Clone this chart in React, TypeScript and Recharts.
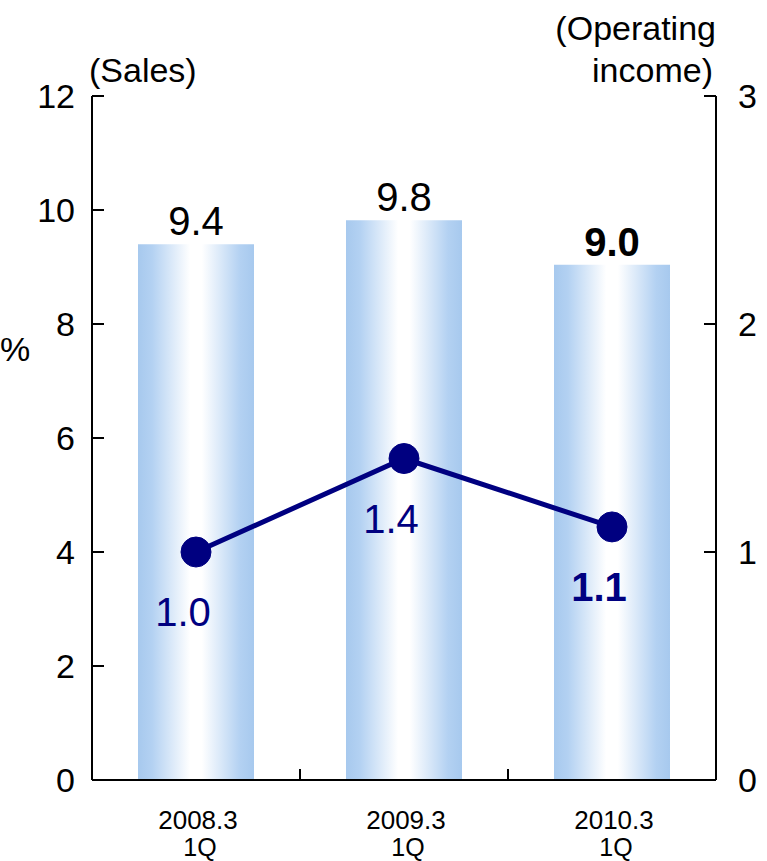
import React from 'react';
import { ComposedChart, Bar, Line, XAxis, YAxis, LabelList, Customized } from 'recharts';

const periods = ['2008.3', '2009.3', '2010.3'];
const quarters = ['1Q', '1Q', '1Q'];
const sales = [9.4, 9.82, 9.04];
const operatingIncome = [1.0, 1.41, 1.11];
const salesTicks = [0, 2, 4, 6, 8, 10, 12];
const incomeTicks = [0, 1, 2, 3];

const data = periods.map((p, i) => ({
  period: p,
  quarter: quarters[i],
  sales: sales[i],
  income: operatingIncome[i],
}));

const FONT = '"Liberation Sans", Arial, sans-serif';
const NAVY = '#000080';
const last = data.length - 1;

const LeftTick = (props: any) => {
  const { x, y, payload } = props;
  return (
    <g>
      <line x1={x} x2={x + 12} y1={y} y2={y} stroke="#000" strokeWidth={2} />
      <text x={x - 17} y={y + 12} textAnchor="end" fontSize={34} fontFamily={FONT} fill="#000">
        {payload.value}
      </text>
    </g>
  );
};

const RightTick = (props: any) => {
  const { x, y, payload } = props;
  return (
    <g>
      <line x1={x - 12} x2={x} y1={y} y2={y} stroke="#000" strokeWidth={2} />
      <text x={x + 22} y={y + 12} textAnchor="start" fontSize={34} fontFamily={FONT} fill="#000">
        {payload.value}
      </text>
    </g>
  );
};

const BottomTick = (props: any) => {
  const { x, y, payload, index } = props;
  const half = 104;
  return (
    <g>
      {index < last && (
        <line x1={x + half} x2={x + half} y1={y} y2={y - 11} stroke="#000" strokeWidth={2} />
      )}
      <text x={x + 2} y={y + 49} textAnchor="middle" fontSize={26} fontFamily={FONT} fill="#000">
        {payload.value}
      </text>
      <text x={x + 4} y={y + 76} textAnchor="middle" fontSize={25} fontFamily={FONT} fill="#000">
        {quarters[index]}
      </text>
    </g>
  );
};

const BarValueLabel = (props: any) => {
  const { x, y, width, value, index } = props;
  return (
    <text
      x={Number(x) + Number(width) / 2}
      y={Number(y) - 9}
      textAnchor="middle"
      fontSize={40}
      fontWeight={index === last ? 'bold' : 'normal'}
      fontFamily={FONT}
      fill="#000"
    >
      {Number(value).toFixed(1)}
    </text>
  );
};

const LineValueLabel = (props: any) => {
  const { x, y, value, index } = props;
  return (
    <text
      x={Number(x) - 13}
      y={Number(y) + 74}
      textAnchor="middle"
      fontSize={40}
      fontWeight={index === last ? 'bold' : 'normal'}
      fontFamily={FONT}
      fill={NAVY}
    >
      {Number(value).toFixed(1)}
    </text>
  );
};

const AxisTitles = () => (
  <g fontFamily={FONT} fontSize={34} fill="#000">
    <text x={89} y={82}>(Sales)</text>
    <text x={716} y={40} textAnchor="end">(Operating</text>
    <text x={713} y={82} textAnchor="end">income)</text>
    <text x={0} y={361}>%</text>
  </g>
);

export default function App() {
  return (
    <div style={{ position: 'absolute', left: 0, top: 0, background: '#fff' }}>
      <ComposedChart
        width={767}
        height={861}
        data={data}
        margin={{ top: 96, right: 0, bottom: 0, left: 0 }}
      >
        <defs>
          <linearGradient id="barGrad" x1="0" y1="0" x2="1" y2="0">
            <stop offset="0%" stopColor="#a7c9ee" />
            <stop offset="12%" stopColor="#b3d1f2" />
            <stop offset="45%" stopColor="#ffffff" />
            <stop offset="55%" stopColor="#ffffff" />
            <stop offset="88%" stopColor="#b3d1f2" />
            <stop offset="100%" stopColor="#a7c9ee" />
          </linearGradient>
        </defs>
        <XAxis
          dataKey="period"
          height={81}
          tickLine={false}
          tickSize={0}
          tickMargin={0}
          axisLine={{ stroke: '#000', strokeWidth: 2 }}
          tick={<BottomTick />}
          interval={0}
        />
        <YAxis
          yAxisId="sales"
          orientation="left"
          width={92}
          domain={[0, 12]}
          ticks={salesTicks}
          tickLine={false}
          tickSize={0}
          tickMargin={0}
          axisLine={{ stroke: '#000', strokeWidth: 2 }}
          tick={<LeftTick />}
          interval={0}
        />
        <YAxis
          yAxisId="income"
          orientation="right"
          width={51}
          domain={[0, 3]}
          ticks={incomeTicks}
          tickLine={false}
          tickSize={0}
          tickMargin={0}
          axisLine={{ stroke: '#000', strokeWidth: 2 }}
          tick={<RightTick />}
          interval={0}
        />
        <Bar
          yAxisId="sales"
          dataKey="sales"
          barSize={116}
          fill="url(#barGrad)"
          isAnimationActive={false}
        >
          <LabelList dataKey="sales" content={<BarValueLabel />} />
        </Bar>
        <Line
          yAxisId="income"
          dataKey="income"
          stroke={NAVY}
          strokeWidth={5}
          dot={{ r: 15, fill: NAVY, stroke: NAVY, strokeWidth: 1 }}
          activeDot={false}
          isAnimationActive={false}
        >
          <LabelList dataKey="income" content={<LineValueLabel />} />
        </Line>
        <Customized component={AxisTitles} />
      </ComposedChart>
    </div>
  );
}
